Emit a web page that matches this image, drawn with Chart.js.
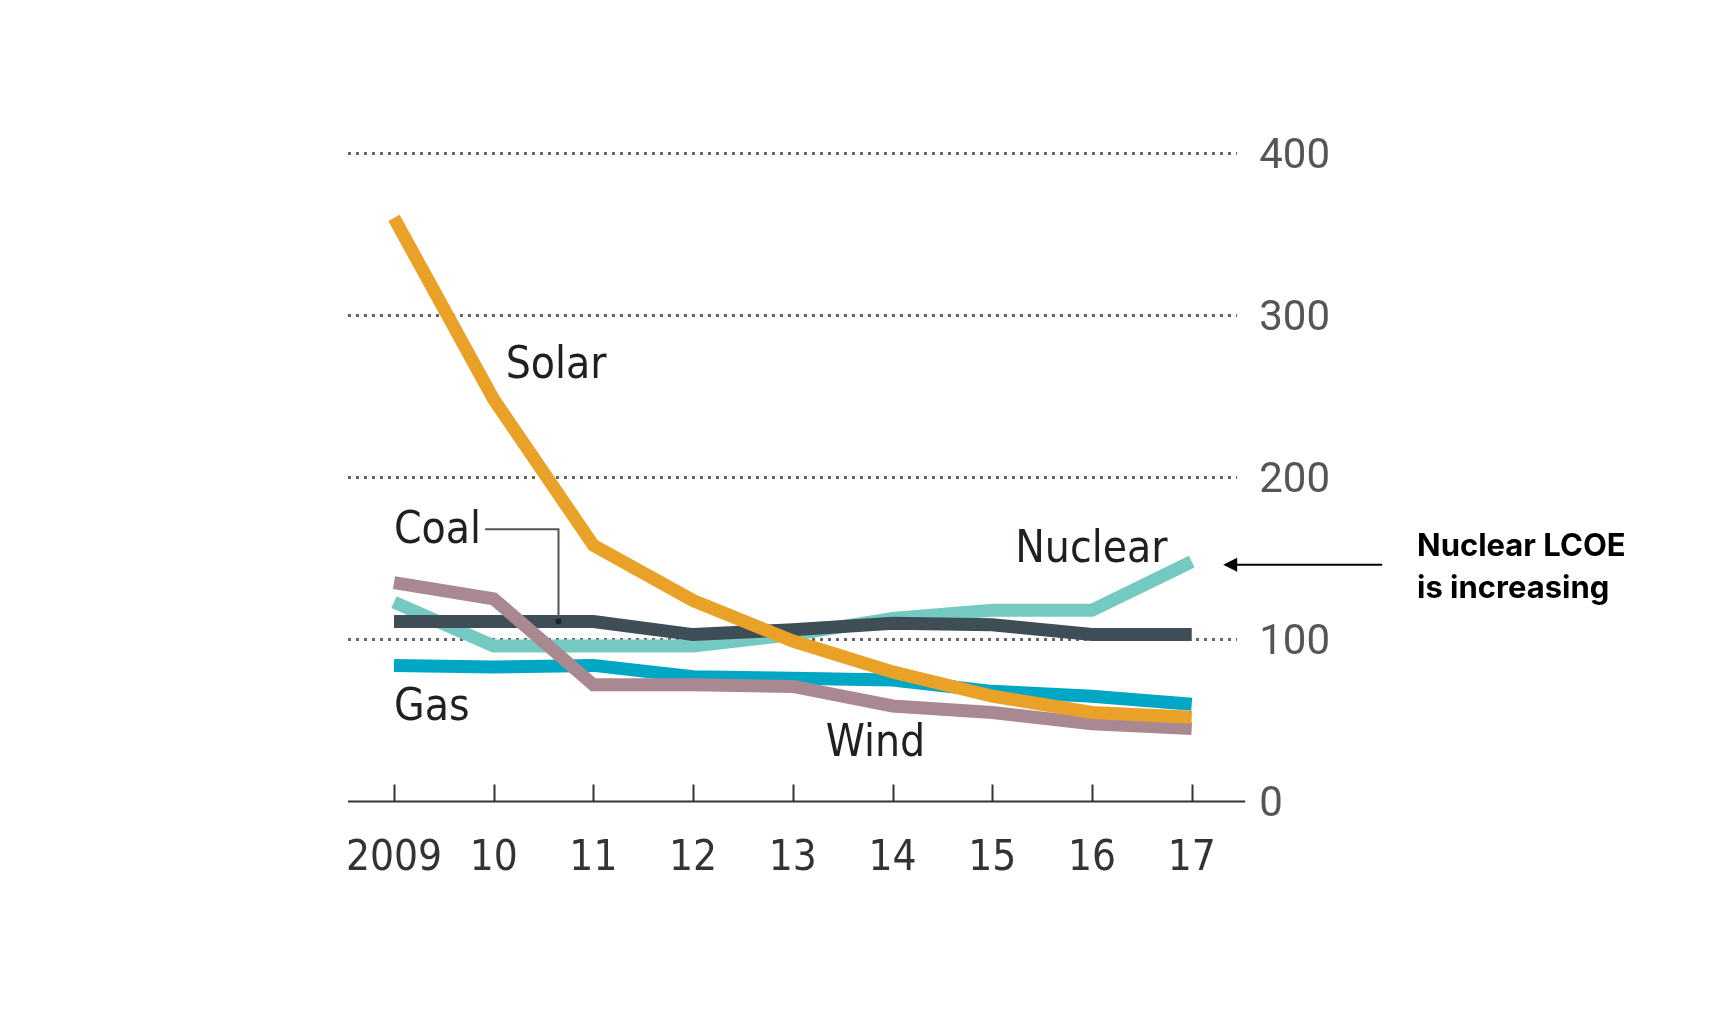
<!DOCTYPE html>
<html>
<head>
<meta charset="utf-8">
<script src="https://cdn.jsdelivr.net/npm/chart.js@4"></script>
<style>
  html, body { margin: 0; padding: 0; background: #fff; }
</style>
</head>
<body>
<canvas id="myChart" width="1717" height="1024"></canvas>
<script>
// Dữ liệu
const years = [2009, 2010, 2011, 2012, 2013, 2014, 2015, 2016, 2017];
const yearLabels = ['2009', '10', '11', '12', '13', '14', '15', '16', '17'];
const yTicks = [0, 100, 200, 300, 400];

const solar = [360, 248, 158, 124, 99, 80, 65, 55, 52];
const wind = [135, 125, 72, 72, 71, 59, 55, 48, 45];
const gas = [84, 83, 84, 77, 76, 75, 68, 65, 60];
const coal = [111, 111, 111, 103, 106, 110, 109, 103, 103];
const nuclear = [123, 96, 96, 96, 103, 113, 118, 118, 148];

const toPoints = arr => years.map((yr, i) => ({ x: yr, y: arr[i] }));

const labelFont = '44px "DejaVu Sans Condensed", "Liberation Sans Narrow", sans-serif';
const textColor = '#231f20';

// Nhãn, đường dẫn và mũi tên chú thích
const annotations = {
  id: 'annotations',
  afterDraw(chart) {
    const ctx = chart.ctx;
    const xs = chart.scales.x;
    const ys = chart.scales.y;
    const area = chart.chartArea;
    const y0 = ys.getPixelForValue(0);

    ctx.save();
    // trục hoành và vạch chia
    ctx.strokeStyle = '#333';
    ctx.lineWidth = 2;
    ctx.beginPath();
    ctx.moveTo(area.left, y0);
    ctx.lineTo(area.right + 8, y0);
    years.forEach(yr => {
      const px = Math.round(xs.getPixelForValue(yr)) + 0.5;
      ctx.moveTo(px, y0);
      ctx.lineTo(px, y0 - 17);
    });
    ctx.stroke();

    // tên các đường
    ctx.font = labelFont;
    ctx.fillStyle = textColor;
    ctx.textBaseline = 'alphabetic';
    ctx.textAlign = 'left';
    const names = [
      ['Solar', 2010.12, 261],
      ['Coal', 2009.0, 159.6],
      ['Nuclear', 2015.23, 148],
      ['Gas', 2009.0, 50.3],
      ['Wind', 2013.33, 28]
    ];
    names.forEach(n => {
      ctx.fillText(n[0], xs.getPixelForValue(n[1]), ys.getPixelForValue(n[2]));
    });

    // đường dẫn cho Coal
    const coalX = xs.getPixelForValue(2009.0) + ctx.measureText('Coal').width + 4;
    const bendX = xs.getPixelForValue(2010.65);
    const topY = ys.getPixelForValue(168);
    const endY = ys.getPixelForValue(coal[1]);
    ctx.strokeStyle = '#555';
    ctx.lineWidth = 2;
    ctx.beginPath();
    ctx.moveTo(coalX, topY);
    ctx.lineTo(bendX, topY);
    ctx.lineTo(bendX, endY);
    ctx.stroke();
    ctx.fillStyle = '#222';
    ctx.beginPath();
    ctx.arc(bendX, endY, 3, 0, Math.PI * 2);
    ctx.fill();

    // mũi tên chú thích
    const arrowY = ys.getPixelForValue(146);
    const tipX = area.right - 14;
    ctx.strokeStyle = '#000';
    ctx.fillStyle = '#000';
    ctx.lineWidth = 2;
    ctx.beginPath();
    ctx.moveTo(tipX + 159, arrowY);
    ctx.lineTo(tipX + 10, arrowY);
    ctx.stroke();
    ctx.beginPath();
    ctx.moveTo(tipX, arrowY);
    ctx.lineTo(tipX + 14, arrowY - 7);
    ctx.lineTo(tipX + 14, arrowY + 7);
    ctx.closePath();
    ctx.fill();

    ctx.font = 'bold 31px Inter, "Open Sans", sans-serif';
    ctx.fillText('Nuclear LCOE', 1417, 556);
    ctx.fillText('is increasing', 1417, 598);
    ctx.restore();
  }
};

var ctx = document.getElementById('myChart').getContext('2d');
var myChart = new Chart(ctx, {
  type: 'line',
  data: {
    datasets: [
      { label: 'Solar', data: toPoints(solar), borderColor: '#eaa127' },
      { label: 'Wind', data: toPoints(wind), borderColor: '#a98892' },
      { label: 'Gas', data: toPoints(gas), borderColor: '#00a7c4' },
      { label: 'Coal', data: toPoints(coal), borderColor: '#3f4d57' },
      { label: 'Nuclear', data: toPoints(nuclear), borderColor: '#74cac1' }
    ]
  },
  options: {
    responsive: false,
    animation: false,
    layout: { padding: { left: 348, right: 365, top: 153, bottom: 116 } },
    plugins: {
      legend: { display: false },
      tooltip: { enabled: false }
    },
    elements: {
      point: { radius: 0 },
      line: { borderWidth: 13, tension: 0, borderCapStyle: 'butt', fill: false }
    },
    scales: {
      x: {
        type: 'linear',
        min: 2008.539,
        max: 2017.456,
        afterBuildTicks: s => { s.ticks = years.map(v => ({ value: v })); },
        ticks: {
          autoSkip: false,
          maxRotation: 0,
          padding: 24,
          color: '#333',
          font: { family: '"DejaVu Sans Condensed", "Liberation Sans Narrow", sans-serif', size: 42 },
          callback: v => yearLabels[years.indexOf(v)]
        },
        grid: { display: false },
        border: { display: false }
      },
      y: {
        position: 'right',
        min: 0,
        max: 400,
        afterBuildTicks: s => { s.ticks = yTicks.map(v => ({ value: v })); },
        ticks: {
          padding: 22,
          labelOffset: 4,
          color: '#555',
          font: { family: 'Roboto, sans-serif', size: 42 }
        },
        grid: {
          drawTicks: false,
          lineWidth: 3,
          color: c => (c.tick && c.tick.value === 0) ? 'rgba(0,0,0,0)' : '#666'
        },
        border: { display: false, dash: [3, 5] }
      }
    }
  },
  plugins: [annotations]
});
</script>
</body>
</html>
